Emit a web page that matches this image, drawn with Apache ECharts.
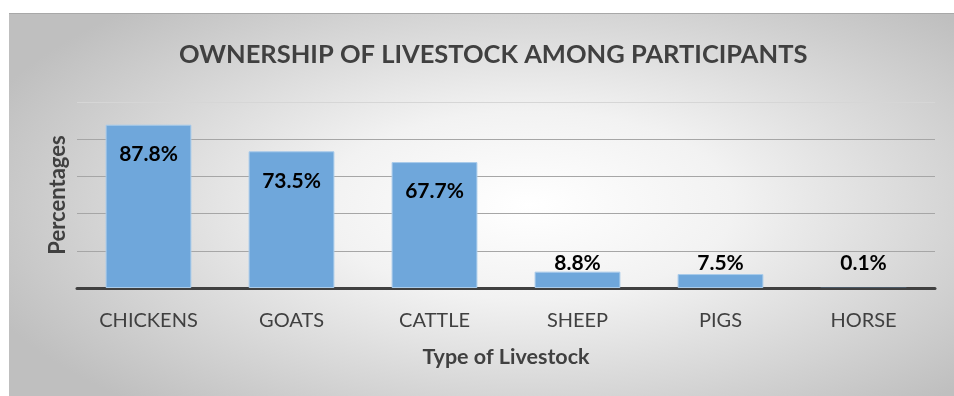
<!DOCTYPE html>
<html>
<head>
<meta charset="utf-8">
<script src="https://cdn.jsdelivr.net/npm/echarts@6/dist/echarts.min.js"></script>
<style>
  html, body { margin: 0; padding: 0; background: #ffffff; }
  #frame {
    position: absolute; left: 9px; top: 13px; width: 945px; height: 383px;
    box-sizing: border-box; border-top: 1px solid #a8a8a8;
    background: radial-gradient(ellipse 62% 70% at 55% 50%, #ffffff 0%, #f2f2f2 35%, #bfbfbf 100%);
  }
  #chart { position: absolute; left: 0; top: 0; width: 954px; height: 396px; }
</style>
</head>
<body>
<div id="frame"></div>
<div id="chart"></div>
<script>
// Livestock ownership shares (% of participants)
const categories = ['CHICKENS', 'GOATS', 'CATTLE', 'SHEEP', 'PIGS', 'HORSE'];
const shares = [87.8, 73.5, 67.7, 8.8, 7.5, 0.1];

const FONT = 'Lato';
const TEXT = '#404040';

// Tall bars carry their label inside near the top; short ones sit just above the axis
const barData = shares.map(v => ({
  value: v,
  itemStyle: v < 1 ? { borderWidth: 0 } : undefined,
  label: v > 20
    ? { position: 'insideTop', distance: 19 }
    : { position: 'insideBottom', distance: 14 }
}));

const chart = echarts.init(document.getElementById('chart'), null, { renderer: 'canvas' });
chart.setOption({
  backgroundColor: 'transparent',
  animation: false,
  textStyle: { fontFamily: FONT },
  title: {
    text: 'OWNERSHIP OF LIVESTOCK AMONG PARTICIPANTS',
    left: 174,
    top: 37,
    textStyle: { fontFamily: FONT, fontSize: 25.5, fontWeight: 'bold', color: TEXT }
  },
  grid: { left: 77, right: 19, top: 102, bottom: 108, containLabel: false },
  xAxis: {
    type: 'category',
    data: categories,
    name: 'Type of Livestock',
    nameLocation: 'middle',
    nameGap: 58,
    nameTextStyle: { fontFamily: FONT, fontSize: 21.5, fontWeight: 'bold', color: TEXT },
    axisLine: { lineStyle: { color: '#404040', width: 3 } },
    axisTick: { show: false },
    axisLabel: { margin: 23, fontFamily: FONT, fontSize: 20, color: TEXT }
  },
  yAxis: {
    type: 'value',
    min: 0,
    max: 100,
    interval: 20,
    name: 'Percentages',
    nameLocation: 'middle',
    nameRotate: 90,
    nameGap: 8,
    nameTextStyle: { fontFamily: FONT, fontSize: 22, fontWeight: 'bold', color: TEXT },
    axisLine: { show: false },
    axisTick: { show: false },
    axisLabel: { show: false },
    splitLine: {
      lineStyle: { color: ['#a6a6a6', '#a6a6a6', '#a6a6a6', '#a6a6a6', '#a6a6a6', '#d6d6d6'], width: 1 }
    }
  },
  series: [{
    type: 'bar',
    data: barData,
    barCategoryGap: '40%',
    itemStyle: { color: '#6fa7db', borderColor: '#a9cbea', borderWidth: 1 },
    label: {
      show: true,
      formatter: p => p.value.toFixed(1) + '%',
      fontFamily: FONT,
      fontSize: 21,
      fontWeight: 'bold',
      color: '#000000'
    }
  }]
});
</script>
</body>
</html>
